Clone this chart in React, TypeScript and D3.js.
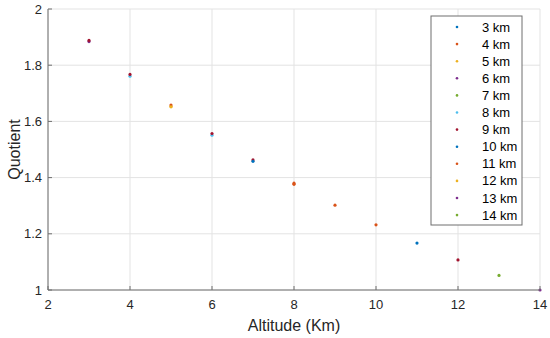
import React from "react";
import * as d3 from "d3";

// legend entries, one per reference altitude
const seriesNames = ["3 km", "4 km", "5 km", "6 km", "7 km", "8 km", "9 km", "10 km", "11 km", "12 km", "13 km", "14 km"];
// MATLAB default colour order
const colorOrder = ["#0072BD", "#D95319", "#EDB120", "#7E2F8E", "#77AC30", "#4DBEEE", "#A2142F"];

// visible points
const pointSeries = ["6 km", "9 km", "8 km", "9 km", "5 km", "11 km", "12 km", "8 km", "9 km", "10 km", "9 km", "4 km", "11 km", "11 km", "11 km", "10 km", "9 km", "14 km", "13 km"];
const pointAltitude = [3, 3, 4, 4, 5, 5, 5, 6, 6, 7, 7, 8, 8, 9, 10, 11, 12, 13, 14];
const pointQuotient = [1.884, 1.888, 1.761, 1.767, 1.653, 1.658, 1.652, 1.551, 1.557, 1.458, 1.463, 1.376, 1.380, 1.302, 1.232, 1.167, 1.107, 1.052, 1.000];

const xTicks = [2, 4, 6, 8, 10, 12, 14];
const yTicks = [1, 1.2, 1.4, 1.6, 1.8, 2];

const width = 550;
const height = 338;
const margin = { top: 9, right: 10, bottom: 48, left: 48 };
const font = "Liberation Sans, Arial, sans-serif";

export default function App() {
    const x = d3.scaleLinear().domain([2, 14]).range([margin.left, width - margin.right]);
    const y = d3.scaleLinear().domain([1, 2]).range([height - margin.bottom, margin.top]);
    const color = d3.scaleOrdinal<string, string>()
        .domain(seriesNames)
        .range(seriesNames.map((_, i) => colorOrder[i % colorOrder.length]));

    const points = pointAltitude
        .map((a, i) => ({ a, q: pointQuotient[i], s: pointSeries[i] }))
        .sort((p, q) => seriesNames.indexOf(p.s) - seriesNames.indexOf(q.s));

    const x0 = x.range()[0], x1 = x.range()[1];
    const y0 = y.range()[0], y1 = y.range()[1];

    // legend box
    const lg = { x: 431, y: 16, w: 91, h: 209, row: 17.1 };

    return (
        <svg width={width} height={height} style={{ position: "absolute", left: 0, top: 0, background: "#fff" }} fontFamily={font}>
            {/* grid */}
            <g stroke="#e3e3e3" strokeWidth={1}>
                {xTicks.map(t => <line key={"gx" + t} x1={x(t)} x2={x(t)} y1={y0} y2={y1} />)}
                {yTicks.map(t => <line key={"gy" + t} x1={x0} x2={x1} y1={y(t)} y2={y(t)} />)}
            </g>

            {/* points */}
            <g>
                {points.map((p, i) => (
                    <circle key={i} cx={x(p.a)} cy={y(p.q)} r={1.6} fill={color(p.s)} />
                ))}
            </g>

            {/* axes */}
            <g stroke="#6e6e6e" strokeWidth={1} fill="none">
                <line x1={x0} x2={x1} y1={y0} y2={y0} />
                <line x1={x0} x2={x0} y1={y0} y2={y1} />
                {xTicks.map(t => <line key={"tx" + t} x1={x(t)} x2={x(t)} y1={y0} y2={y0 - 4} />)}
                {yTicks.map(t => <line key={"ty" + t} x1={x0} x2={x0 + 4} y1={y(t)} y2={y(t)} />)}
            </g>
            <g fontSize={13} fill="#262626">
                {xTicks.map(t => (
                    <text key={"lx" + t} x={x(t)} y={y0 + 19} textAnchor="middle">{t}</text>
                ))}
                {yTicks.map(t => (
                    <text key={"ly" + t} x={x0 - 6} y={y(t) + 4.5} textAnchor="end">{d3.format("~g")(t)}</text>
                ))}
            </g>
            <text x={(x0 + x1) / 2} y={y0 + 41} textAnchor="middle" fontSize={16} fill="#262626">Altitude (Km)</text>
            <text transform={`translate(20,${(y0 + y1) / 2}) rotate(-90)`} textAnchor="middle" fontSize={16} fill="#262626">Quotient</text>

            {/* legend */}
            <rect x={lg.x} y={lg.y} width={lg.w} height={lg.h} fill="#fff" stroke="#6e6e6e" strokeWidth={1} />
            {seriesNames.map((s, i) => (
                <g key={s} transform={`translate(0,${lg.y + 11 + i * lg.row})`}>
                    <circle cx={457} cy={0} r={1.3} fill={color(s)} />
                    <text x={482} y={4.5} fontSize={13} fill="#000">{s}</text>
                </g>
            ))}
        </svg>
    );
}
